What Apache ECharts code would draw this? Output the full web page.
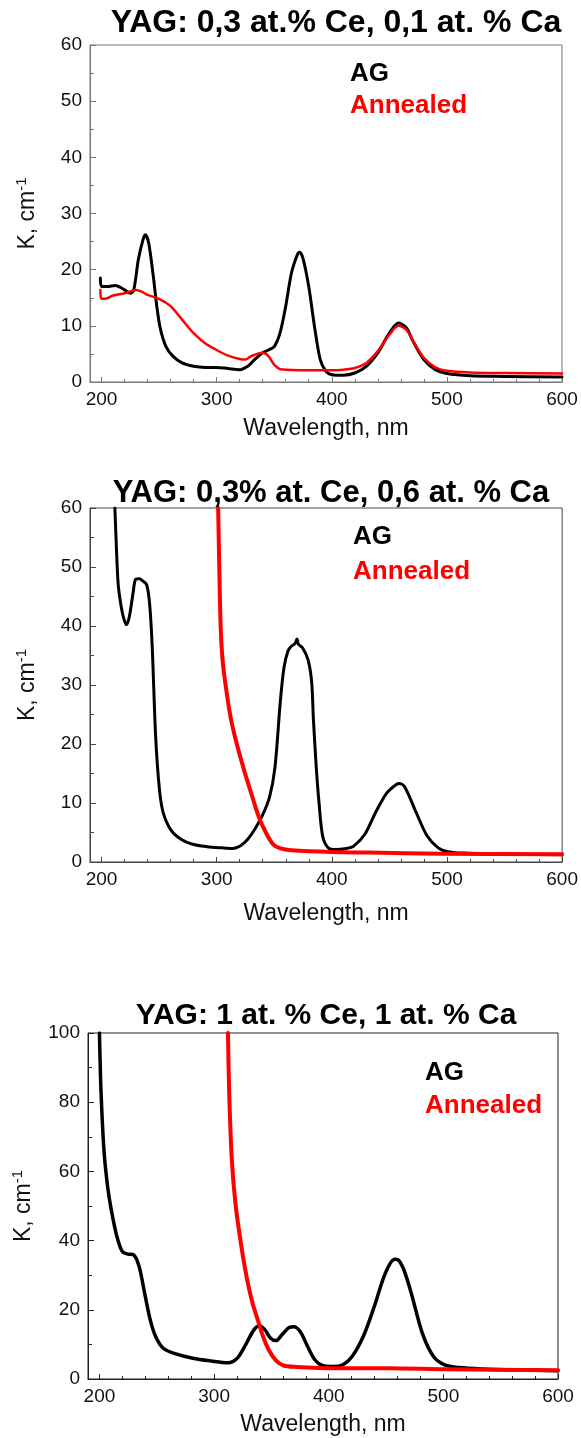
<!DOCTYPE html>
<html>
<head>
<meta charset="utf-8">
<script src="https://cdn.jsdelivr.net/npm/echarts@6/dist/echarts.min.js"></script>
<style>
html, body { margin: 0; padding: 0; background: #fff; }
#main { width: 581px; height: 1438px; }
</style>
</head>
<body>
<div id="main"></div>
<script>
// 数据: 三个样品的吸收谱 (波长 nm, K cm-1)
var titles = ['YAG: 0,3 at.% Ce, 0,1 at. % Ca', 'YAG: 0,3% at. Ce, 0,6 at. % Ca', 'YAG: 1 at. % Ce, 1 at. % Ca'];
var seriesNames = ['AG', 'Annealed'];
var xTicks = [200, 300, 400, 500, 600];
var xMinorTicks = [200, 220, 240, 260, 280, 300, 320, 340, 360, 380, 400, 420, 440, 460, 480, 500, 520, 540, 560, 580, 600];
var yMax = [60, 60, 100];
var yStep = [10, 10, 20];

// 样品 1
var s1AgWl = [199, 200, 205, 212, 220, 225, 228, 232, 236, 238, 241, 245, 248, 251, 256, 262, 270, 280, 290, 300, 310, 320, 327, 333, 340, 345, 350, 355, 360, 365, 370, 372, 375, 380, 385, 390, 395, 400, 410, 420, 430, 440, 450, 458, 465, 470, 480, 490, 500, 520, 550, 600];
var s1AgK = [18.5, 17.0, 17.0, 17.2, 16.4, 15.8, 16.4, 21.8, 25.3, 26.2, 24.7, 18.8, 13.5, 9.6, 6.3, 4.6, 3.4, 2.8, 2.6, 2.6, 2.4, 2.2, 2.8, 4.0, 5.2, 5.7, 6.3, 8.7, 13.5, 19.4, 22.6, 23.1, 22.0, 17.0, 9.9, 4.0, 1.9, 1.3, 1.2, 1.6, 2.8, 5.2, 8.7, 10.5, 9.6, 7.5, 4.0, 2.2, 1.5, 1.1, 1.0, 0.9];
var s1AnWl = [199, 200, 205, 210, 220, 230, 235, 240, 250, 260, 270, 280, 290, 300, 310, 320, 325, 330, 340, 345, 350, 355, 360, 380, 400, 410, 420, 430, 440, 450, 458, 465, 470, 480, 490, 500, 520, 550, 600];
var s1AnK = [16.4, 14.8, 14.9, 15.4, 15.8, 16.4, 16.1, 15.5, 14.8, 13.5, 11.1, 8.7, 6.9, 5.7, 4.7, 4.1, 4.0, 4.6, 5.2, 4.6, 3.1, 2.3, 2.2, 2.1, 2.1, 2.2, 2.5, 3.4, 5.5, 8.4, 10.0, 9.3, 7.5, 4.3, 2.6, 2.0, 1.7, 1.6, 1.5];

// 样品 2
var s2AgWl = [211.6, 213.2, 214.5, 216.5, 219, 221.7, 224.2, 227.4, 229.6, 232.8, 236, 239.2, 241.7, 244, 247, 250.3, 253.5, 260, 269.4, 279, 291.7, 304.5, 314, 320.4, 326.8, 333, 339.5, 345.9, 350.6, 355.4, 358.5, 362, 365, 368, 369.7, 371, 374.5, 379.3, 382.5, 384, 386.6, 388.9, 392, 396.8, 403.2, 412.7, 419, 428.7, 438, 447.8, 455.7, 459, 463.7, 473.2, 482.8, 492.4, 501.9, 517.8, 559, 600];
var s2AgK = [60, 52, 47, 44, 41.5, 40.2, 41.6, 45.6, 47.9, 48.0, 47.6, 47.0, 43.9, 36.6, 21.3, 12.3, 8.4, 5.5, 3.8, 3.0, 2.6, 2.4, 2.3, 2.7, 3.8, 5.5, 7.8, 11.0, 16.0, 27.5, 33.0, 35.8, 36.6, 37.0, 37.8, 36.9, 36.3, 34.3, 30.5, 24.2, 15.7, 10.0, 4.4, 2.4, 2.1, 2.3, 2.7, 4.7, 8.4, 11.7, 13.1, 13.3, 12.6, 8.4, 4.4, 2.4, 1.7, 1.5, 1.3, 1.25];
var s2AnWl = [301.3, 302.9, 303.8, 305.4, 308.3, 312.4, 317.2, 323.6, 329.9, 336.3, 342.7, 349, 355.4, 365, 400, 432, 495, 600];
var s2AnK = [60, 43.9, 38.3, 33.7, 29.2, 24.2, 20.2, 15.7, 11.7, 7.8, 5.0, 3.0, 2.3, 2.0, 1.7, 1.6, 1.4, 1.3];

// 样品 3
var s3AgWl = [200, 201.3, 203.9, 207.1, 210.3, 215.2, 220, 224.9, 229.7, 234.6, 239.4, 244.3, 249.1, 255.6, 265.3, 281.4, 297.6, 312.1, 320.2, 326.7, 334.7, 339.6, 344.4, 349.3, 354.1, 359, 365.4, 369.6, 375.1, 381.6, 388, 394.5, 404.2, 412.3, 420.4, 430, 439.7, 449.4, 457.5, 460.7, 465.6, 472, 481.7, 491.4, 501.1, 514, 533.4, 565.7, 600];
var s3AgK = [100, 83.6, 66.2, 55.6, 48.9, 41.2, 36.8, 36.1, 35.9, 32.5, 24.8, 17.1, 12.2, 8.9, 7.4, 6.0, 5.2, 4.7, 6.0, 9.4, 14.2, 15.4, 14.2, 11.8, 11.1, 12.7, 14.9, 15.1, 13.7, 9.4, 5.5, 3.9, 3.6, 4.1, 6.5, 12.2, 20.9, 30.6, 34.6, 34.4, 31.5, 24.8, 13.2, 6.5, 4.1, 3.3, 2.9, 2.6, 2.4];
var s3AnWl = [312.1, 313.1, 315.3, 318.6, 323.4, 328.3, 333.1, 338, 340.5, 342.8, 347.7, 354.1, 360.6, 371.9, 404.2, 452.7, 501.1, 600];
var s3AnK = [100, 83.6, 64.3, 50.8, 39.2, 29.6, 22.5, 17.2, 14.5, 12.2, 8.4, 5.3, 3.9, 3.5, 3.1, 3.1, 2.8, 2.5];

var agWl = [s1AgWl, s2AgWl, s3AgWl];
var agK = [s1AgK, s2AgK, s3AgK];
var anWl = [s1AnWl, s2AnWl, s3AnWl];
var anK = [s1AnK, s2AnK, s3AnK];

function zip(xs, ys) {
    return xs.map(function (x, i) { return [x, ys[i]]; });
}

// 版面
var grids = [
    { left: 90, top: 45, width: 472, height: 337 },
    { left: 90, top: 508, width: 476, height: 354 },
    { left: 88, top: 1033, width: 470, height: 346 }
];
var titlePos = [{ x: 331, y: 2, size: 32 }, { x: 326, y: 473, size: 31 }, { x: 321, y: 996, size: 30 }];
var legendPos = [{ x: 340, y: 54, gap: 2 }, { x: 343, y: 517, gap: 5 }, { x: 415, y: 1053, gap: 3 }];
var xNameGap = [35, 40, 34];
var lineW = [[3, 2.5], [3, 4], [3.5, 4]];
var axisColor = ['#777', '#444', '#222'];
var font = 'Liberation Sans, Arial, sans-serif';

var option = {
    backgroundColor: '#fff',
    animation: false,
    title: [], legend: [], grid: [], xAxis: [], yAxis: [], series: []
};

for (var i = 0; i < 3; i++) {
    option.title.push({
        text: titles[i],
        left: titlePos[i].x,
        top: titlePos[i].y,
        textAlign: 'center',
        textStyle: { fontFamily: font, fontSize: titlePos[i].size, fontWeight: 'bold', color: '#000' }
    });
    option.legend.push({
        data: [
            { name: 'AG', textStyle: { color: '#000' } },
            { name: 'Annealed', textStyle: { color: '#ff0000' } }
        ],
        orient: 'vertical',
        left: legendPos[i].x,
        top: legendPos[i].y,
        icon: 'none',
        itemWidth: 0,
        itemHeight: 30,
        itemGap: legendPos[i].gap,
        selectedMode: false,
        textStyle: { fontFamily: font, fontSize: 26, fontWeight: 'bold', lineHeight: 30 }
    });
    option.grid.push(Object.assign({ show: true, borderColor: axisColor[i], borderWidth: 1, backgroundColor: '#fff' }, grids[i]));
    // 主刻度 + 标签
    option.xAxis.push({
        type: 'value', gridIndex: i, min: 190, max: 600,
        name: 'Wavelength, nm', nameLocation: 'middle', nameGap: xNameGap[i],
        nameTextStyle: { fontFamily: font, fontSize: 23, color: '#111' },
        axisLine: { show: true, lineStyle: { color: axisColor[i] } },
        axisTick: { show: true, inside: true, length: 5, customValues: xTicks, lineStyle: { color: axisColor[i] } },
        axisLabel: { customValues: xTicks, fontFamily: font, fontSize: 19, color: '#111', margin: 8 },
        splitLine: { show: false }
    });
    // 次刻度
    option.xAxis.push({
        type: 'value', gridIndex: i, min: 190, max: 600, position: 'bottom',
        axisLine: { show: false },
        axisTick: { show: true, inside: true, length: 3, customValues: xMinorTicks, lineStyle: { color: axisColor[i] } },
        axisLabel: { show: false },
        splitLine: { show: false }
    });
    option.yAxis.push({
        type: 'value', gridIndex: i, min: 0, max: yMax[i], interval: yStep[i],
        name: 'K, cm{sup|-1}', nameLocation: 'middle', nameRotate: 90, nameGap: 49,
        nameTextStyle: {
            fontFamily: font, fontSize: 23, color: '#111', lineHeight: 27,
            rich: { sup: { fontFamily: font, fontSize: 15, color: '#111', verticalAlign: 'top', lineHeight: 27 } }
        },
        axisLine: { show: true, lineStyle: { color: axisColor[i] } },
        axisTick: { show: true, inside: true, length: 6, lineStyle: { color: axisColor[i] } },
        minorTick: { show: true, splitNumber: 2, length: 4, lineStyle: { color: axisColor[i] } },
        axisLabel: { fontFamily: font, fontSize: 19, color: '#111', margin: 8 },
        splitLine: { show: false }
    });
    option.series.push({
        name: seriesNames[0], type: 'line', xAxisIndex: i * 2, yAxisIndex: i,
        data: zip(agWl[i], agK[i]), showSymbol: false, smooth: 0.3,
        lineStyle: { color: '#000', width: lineW[i][0], join: 'round', cap: 'round' }, itemStyle: { color: '#000' }
    });
    option.series.push({
        name: seriesNames[1], type: 'line', xAxisIndex: i * 2, yAxisIndex: i,
        data: zip(anWl[i], anK[i]), showSymbol: false, smooth: 0.3,
        lineStyle: { color: '#ff0000', width: lineW[i][1], join: 'round', cap: 'round' }, itemStyle: { color: '#ff0000' }
    });
}

var myChart = echarts.init(document.getElementById('main'));
myChart.setOption(option);
</script>
</body>
</html>
